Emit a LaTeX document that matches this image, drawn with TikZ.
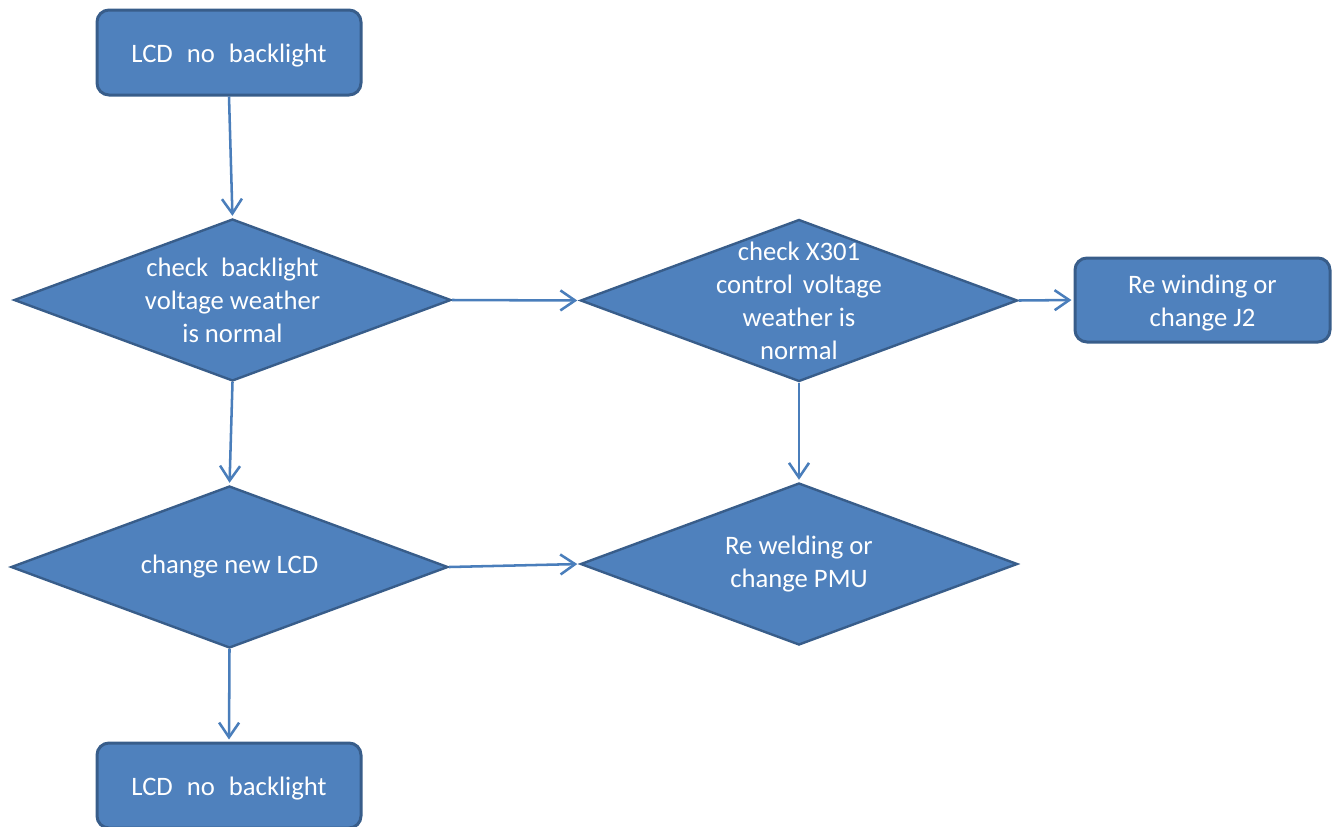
\documentclass[tikz,border=0pt]{standalone}
\usepackage{fontspec}
\setmainfont{Carlito}
\usetikzlibrary{shapes.geometric,arrows.meta}
\definecolor{boxfill}{HTML}{4F81BD}
\definecolor{boxline}{HTML}{385D8A}
\definecolor{arrowcol}{HTML}{4A7EBB}
\tikzset{
  txt/.style={text=white,align=center,font=\fontsize{20}{24.75}\selectfont},
  boxtxt/.style={txt,yshift=-2.25pt},
  procbox/.style={draw=boxline,fill=boxfill,line width=2.25pt,rounded corners=9pt,
    inner sep=0pt},
  decision/.style={draw=boxline,fill=boxfill,line width=1.8pt,shape=diamond,
    inner sep=0pt,minimum width=437*0.75pt,minimum height=162*0.75pt},
  conn/.style={draw=arrowcol,line width=1.9pt,
    -{Straight Barb[length=11pt,width=15pt,line width=1.9pt]},shorten >=1.5pt},
}
\begin{document}
\begin{tikzpicture}[x=0.75pt,y=-0.75pt]
\useasboundingbox (0,0) rectangle (1332,826);
\begin{scope}
\clip (0,0) rectangle (1332,826);
\node[procbox,minimum width=264*0.75pt,minimum height=85*0.75pt,
  label={[boxtxt]center:LCD\hspace{0.3em} no\hspace{0.3em} backlight}] (start) at (229,52.5) {};
\node[decision,label={[txt]center:check\hspace{0.25em} backlight\\voltage weather\\is normal}] (d1) at (232.5,300) {};
\node[decision,label={[txt]center:check X301\\control\hspace{0.15em} voltage\\weather is\\normal}] (d2) at (799,300.5) {};
\node[procbox,minimum width=255*0.75pt,minimum height=84*0.75pt,
  label={[boxtxt]center:Re winding or\\change J2}] (rw) at (1202.5,300) {};
\node[decision,label={[txt]center:change new LCD}] (d3) at (229.5,567) {};
\node[decision,label={[txt]center:Re welding or\\change PMU}] (d4) at (799,564) {};
\node[procbox,minimum width=264*0.75pt,minimum height=85*0.75pt,
  label={[boxtxt]center:LCD\hspace{0.3em} no\hspace{0.3em} backlight}] (end) at (229,785.5) {};
\end{scope}
\draw[conn] (start.south) -- (d1.north);
\draw[conn] (d1.east) -- (d2.west);
\draw[conn] (d2.east) -- (rw.west);
\draw[conn] (d1.south) -- (d3.north);
\draw[conn] (d2.south) -- (d4.north);
\draw[conn] (d3.east) -- (d4.west);
\draw[conn] (d3.south) -- (end.north);
\end{tikzpicture}
\end{document}
